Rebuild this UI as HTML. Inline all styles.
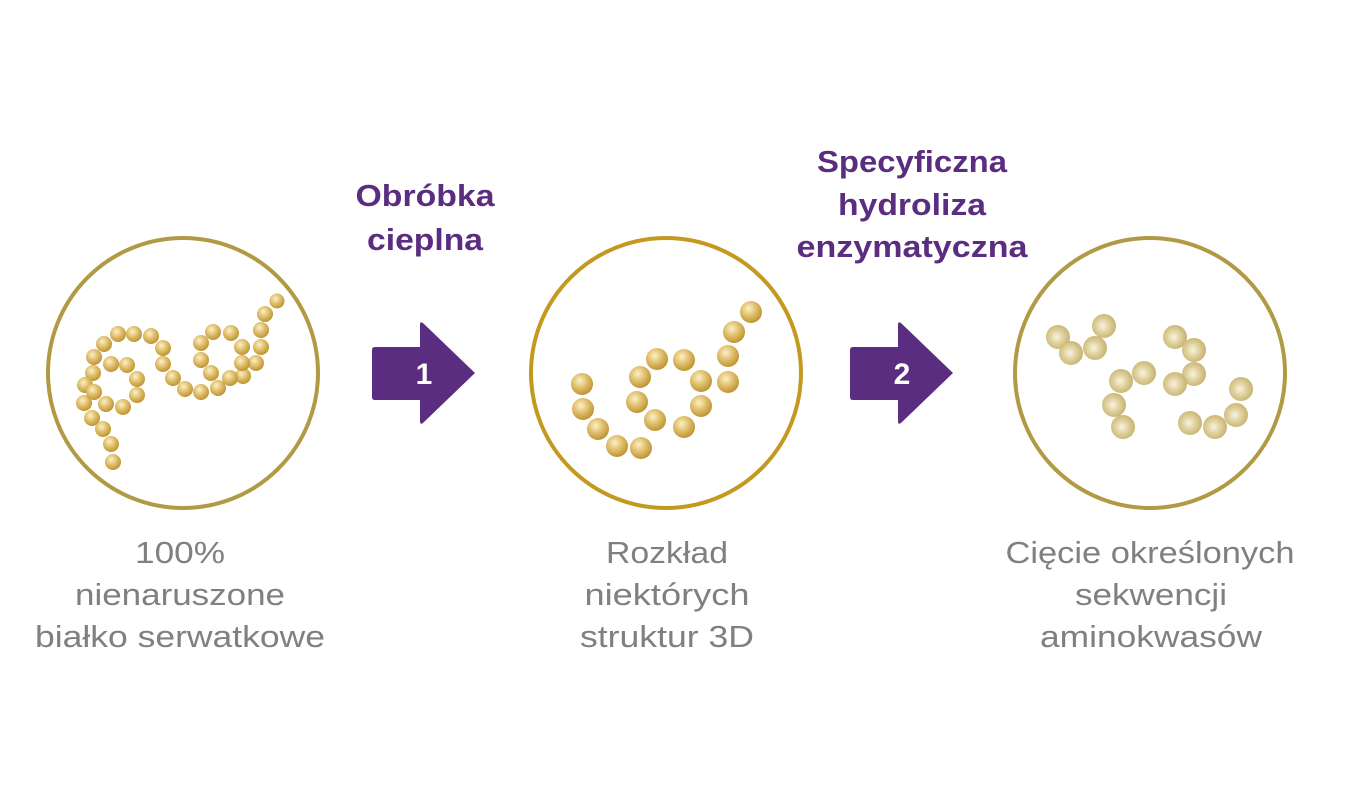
<!DOCTYPE html>
<html><head><meta charset="utf-8"><style>
html,body{margin:0;padding:0;background:#fff;}
svg{display:block}
.g{font-family:"Liberation Sans",sans-serif;font-size:31px;fill:#808080;text-anchor:middle}
.p{font-family:"Liberation Sans",sans-serif;font-size:31px;font-weight:bold;fill:#5a2d80;text-anchor:middle}
</style></head><body>
<svg width="1345" height="805" viewBox="0 0 1345 805" xmlns="http://www.w3.org/2000/svg">
<defs>
<radialGradient id="b1" cx="0.4" cy="0.35" r="0.7">
<stop offset="0" stop-color="#fbf0c8"/><stop offset="0.45" stop-color="#e2c270"/><stop offset="1" stop-color="#b88e2a"/>
</radialGradient>
<radialGradient id="b3" cx="0.45" cy="0.5" r="0.7">
<stop offset="0" stop-color="#f8f3e0"/><stop offset="0.45" stop-color="#dccd96"/><stop offset="1" stop-color="#b7a35a"/>
</radialGradient>
</defs>
<circle cx="183" cy="373" r="135" fill="none" stroke="#b19a44" stroke-width="4"/>
<circle cx="666" cy="373" r="135" fill="none" stroke="#c39a1f" stroke-width="4"/>
<circle cx="1150" cy="373" r="135" fill="none" stroke="#b19a44" stroke-width="4"/>
<g fill="url(#b1)">
<circle cx="277" cy="301" r="7.5"/><circle cx="265" cy="314" r="8"/><circle cx="261" cy="330" r="8"/><circle cx="261" cy="347" r="8"/><circle cx="256" cy="363" r="8"/><circle cx="243" cy="376" r="8"/><circle cx="230" cy="378" r="8"/><circle cx="218" cy="388" r="8"/><circle cx="201" cy="392" r="8"/><circle cx="185" cy="389" r="8"/><circle cx="173" cy="378" r="8"/><circle cx="163" cy="364" r="8"/><circle cx="163" cy="348" r="8"/><circle cx="151" cy="336" r="8"/><circle cx="134" cy="334" r="8"/><circle cx="118" cy="334" r="8"/><circle cx="104" cy="344" r="8"/><circle cx="94" cy="357" r="8"/><circle cx="93" cy="373" r="8"/><circle cx="85" cy="385" r="8"/><circle cx="84" cy="403" r="8"/><circle cx="92" cy="418" r="8"/><circle cx="103" cy="429" r="8"/><circle cx="111" cy="444" r="8"/><circle cx="113" cy="462" r="8"/><circle cx="94" cy="392" r="8"/><circle cx="106" cy="404" r="8"/><circle cx="123" cy="407" r="8"/><circle cx="137" cy="395" r="8"/><circle cx="137" cy="379" r="8"/><circle cx="127" cy="365" r="8"/><circle cx="111" cy="364" r="8"/><circle cx="201" cy="360" r="8"/><circle cx="211" cy="373" r="8"/><circle cx="201" cy="343" r="8"/><circle cx="213" cy="332" r="8"/><circle cx="231" cy="333" r="8"/><circle cx="242" cy="347" r="8"/><circle cx="242" cy="363" r="8"/>
</g>
<g fill="url(#b1)">
<circle cx="582" cy="384" r="11"/><circle cx="583" cy="409" r="11"/><circle cx="598" cy="429" r="11"/><circle cx="617" cy="446" r="11"/><circle cx="641" cy="448" r="11"/><circle cx="640" cy="377" r="11"/><circle cx="657" cy="359" r="11"/><circle cx="684" cy="360" r="11"/><circle cx="701" cy="381" r="11"/><circle cx="701" cy="406" r="11"/><circle cx="684" cy="427" r="11"/><circle cx="655" cy="420" r="11"/><circle cx="637" cy="402" r="11"/><circle cx="728" cy="382" r="11"/><circle cx="728" cy="356" r="11"/><circle cx="734" cy="332" r="11"/><circle cx="751" cy="312" r="11"/>
</g>
<g fill="url(#b3)">
<circle cx="1058" cy="337" r="12"/><circle cx="1071" cy="353" r="12"/><circle cx="1095" cy="348" r="12"/><circle cx="1104" cy="326" r="12"/><circle cx="1121" cy="381" r="12"/><circle cx="1144" cy="373" r="12"/><circle cx="1114" cy="405" r="12"/><circle cx="1123" cy="427" r="12"/><circle cx="1175" cy="337" r="12"/><circle cx="1194" cy="350" r="12"/><circle cx="1194" cy="374" r="12"/><circle cx="1175" cy="384" r="12"/><circle cx="1241" cy="389" r="12"/><circle cx="1236" cy="415" r="12"/><circle cx="1215" cy="427" r="12"/><circle cx="1190" cy="423" r="12"/>
</g>
<path d="M375,347 H420 V325 Q420,320 424,324 L475,373 L424,422 Q420,426 420,421 V400 H375 Q372,400 372,397 V350 Q372,347 375,347 Z" fill="#5a2d80"/>
<path d="M853,347 H898 V325 Q898,320 902,324 L953,373 L902,422 Q898,426 898,421 V400 H853 Q850,400 850,397 V350 Q850,347 853,347 Z" fill="#5a2d80"/>
<text x="424" y="384" font-family="Liberation Sans, sans-serif" font-size="30" font-weight="bold" fill="#fff" text-anchor="middle">1</text>
<text x="902" y="384" font-family="Liberation Sans, sans-serif" font-size="30" font-weight="bold" fill="#fff" text-anchor="middle">2</text>
<text class="p" x="425" y="206" textLength="139" lengthAdjust="spacingAndGlyphs">Obróbka</text>
<text class="p" x="425" y="250" textLength="116" lengthAdjust="spacingAndGlyphs">cieplna</text>
<text class="p" x="912" y="172" textLength="190" lengthAdjust="spacingAndGlyphs">Specyficzna</text>
<text class="p" x="912" y="215" textLength="148" lengthAdjust="spacingAndGlyphs">hydroliza</text>
<text class="p" x="912" y="257" textLength="231" lengthAdjust="spacingAndGlyphs">enzymatyczna</text>
<text class="g" x="180" y="563" textLength="90" lengthAdjust="spacingAndGlyphs">100%</text>
<text class="g" x="180" y="605" textLength="210" lengthAdjust="spacingAndGlyphs">nienaruszone</text>
<text class="g" x="180" y="647" textLength="290" lengthAdjust="spacingAndGlyphs">białko serwatkowe</text>
<text class="g" x="667" y="563" textLength="122" lengthAdjust="spacingAndGlyphs">Rozkład</text>
<text class="g" x="667" y="605" textLength="165" lengthAdjust="spacingAndGlyphs">niektórych</text>
<text class="g" x="667" y="647" textLength="174" lengthAdjust="spacingAndGlyphs">struktur 3D</text>
<text class="g" x="1150" y="563" textLength="289" lengthAdjust="spacingAndGlyphs">Cięcie określonych</text>
<text class="g" x="1151" y="605" textLength="152" lengthAdjust="spacingAndGlyphs">sekwencji</text>
<text class="g" x="1151" y="647" textLength="222" lengthAdjust="spacingAndGlyphs">aminokwasów</text>
</svg>
</body></html>
